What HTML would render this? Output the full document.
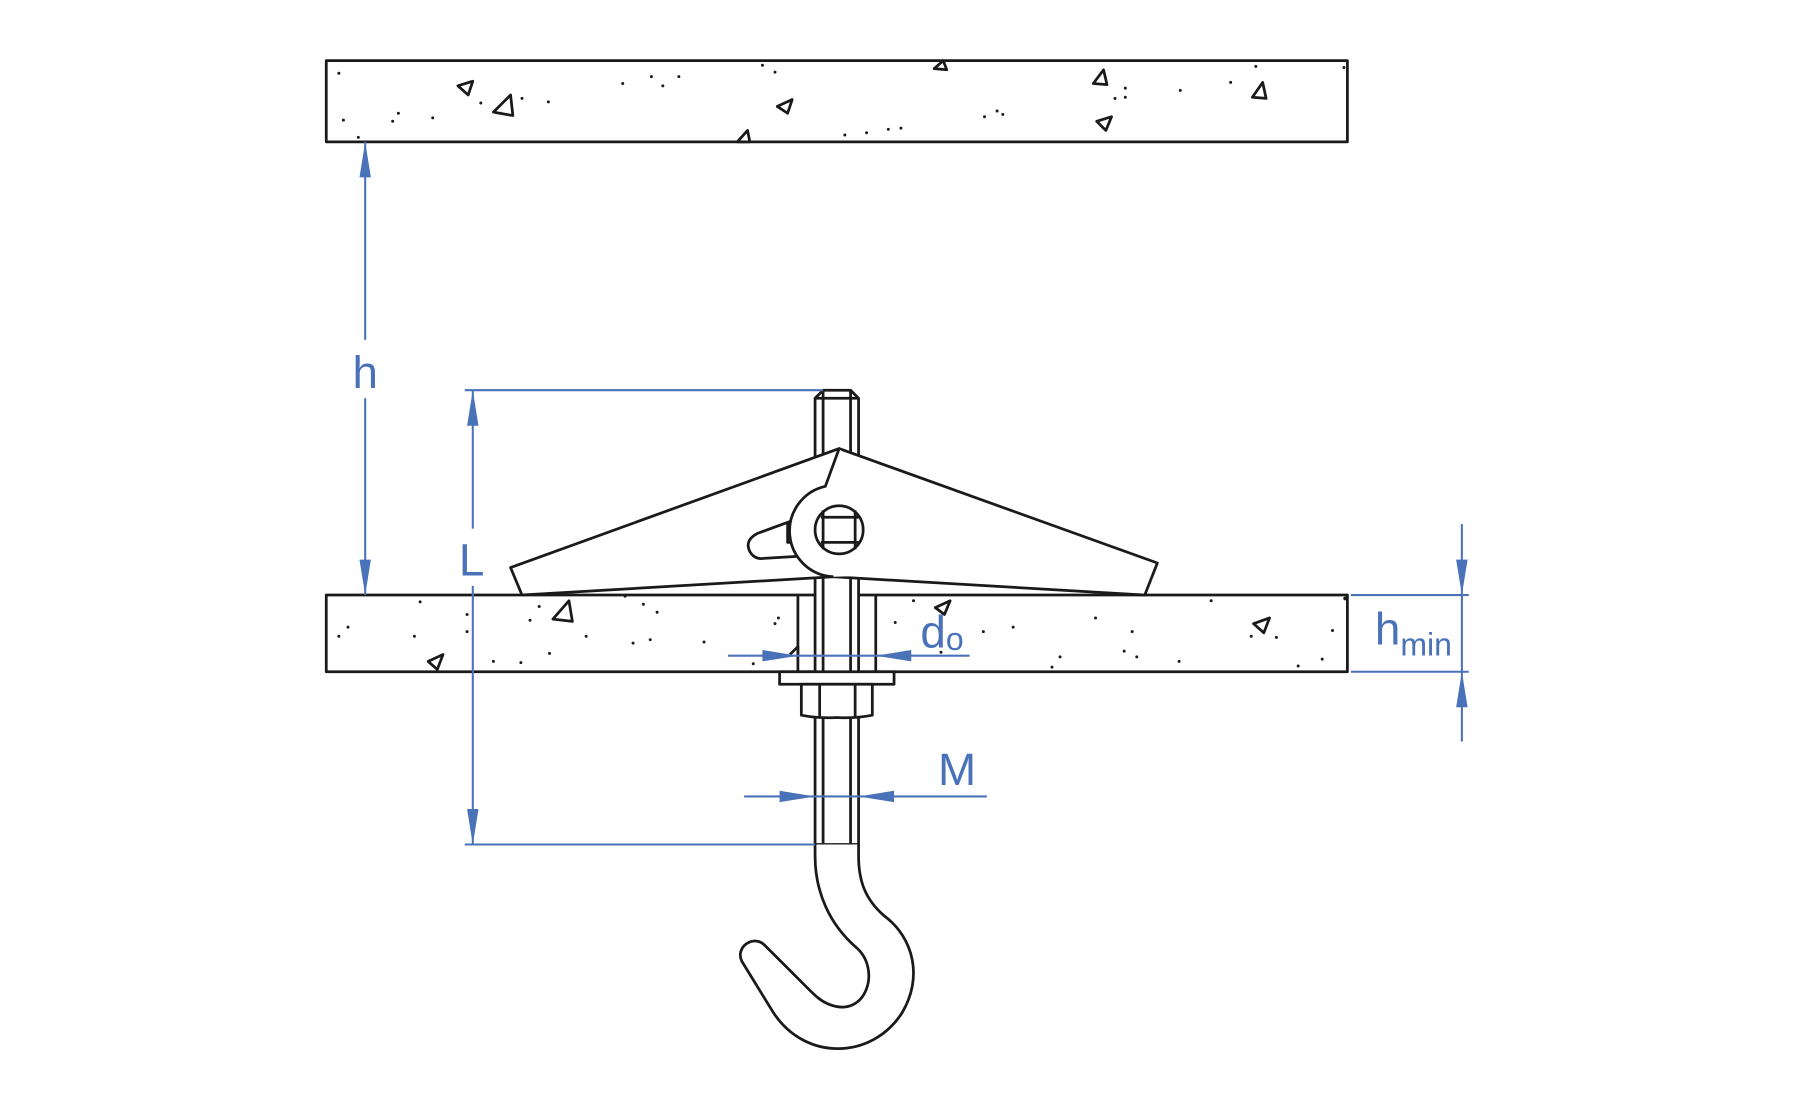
<!DOCTYPE html>
<html><head><meta charset="utf-8"><style>
html,body{margin:0;padding:0;background:#fff;}
svg{display:block;}
text{font-family:"Liberation Sans",sans-serif;fill:#4a72b8;}
</style></head><body>
<svg width="1795" height="1110" viewBox="0 0 1568 970" preserveAspectRatio="none" xmlns="http://www.w3.org/2000/svg">
<g fill="none" stroke="#1a1a1a" stroke-width="2.4" stroke-linejoin="round">
<rect x="285" y="53" width="892" height="71"/>
<rect x="285" y="520" width="892" height="67"/>
<path d="M400,75 L413,71 L409,83 Z"/>
<path d="M431,98 L446,83 L448,101 Z"/>
<path d="M679,93 L692,87 L688,99 Z"/>
<path d="M816,60 L824,53 L827,61 Z"/>
<path d="M955,73 L964,61 L967,74 Z"/>
<path d="M958,106 L971,102 L966,114 Z"/>
<path d="M1094,85 L1103,72 L1106,86 Z"/>
<path d="M644,124 L653,114 L655,124 Z"/>
<path d="M483,541 L497,525 L500,543 Z"/>
<path d="M374,578 L387,572 L382,585 Z"/>
<path d="M817,531 L830,525 L825,537 Z"/>
<path d="M1095,545 L1109,540 L1104,553 Z"/>
<path d="M690,572 L697,565 L697,574"/>
</g>
<g fill="#1a1a1a">
<circle cx="296" cy="64" r="1.3"/><circle cx="300" cy="105" r="1.3"/><circle cx="313" cy="120" r="1.3"/><circle cx="343" cy="106" r="1.3"/><circle cx="348" cy="99" r="1.3"/><circle cx="378" cy="103" r="1.3"/><circle cx="420" cy="90" r="1.3"/><circle cx="456" cy="86" r="1.3"/><circle cx="479" cy="89" r="1.3"/><circle cx="544" cy="73" r="1.3"/><circle cx="569" cy="67" r="1.3"/><circle cx="579" cy="75" r="1.3"/><circle cx="593" cy="67" r="1.3"/><circle cx="666" cy="57" r="1.3"/><circle cx="677" cy="63" r="1.3"/><circle cx="738" cy="118" r="1.3"/><circle cx="757" cy="116" r="1.3"/><circle cx="776" cy="113" r="1.3"/><circle cx="787" cy="112" r="1.3"/><circle cx="860" cy="102" r="1.3"/><circle cx="871" cy="97" r="1.3"/><circle cx="876" cy="100" r="1.3"/><circle cx="974" cy="86" r="1.3"/><circle cx="983" cy="77" r="1.3"/><circle cx="983" cy="85" r="1.3"/><circle cx="1031" cy="79" r="1.3"/><circle cx="1075" cy="72" r="1.3"/><circle cx="1097" cy="58" r="1.3"/><circle cx="1174" cy="59" r="1.3"/>
<circle cx="296" cy="556" r="1.3"/><circle cx="304" cy="548" r="1.3"/><circle cx="367" cy="526" r="1.3"/><circle cx="362" cy="556" r="1.3"/><circle cx="408" cy="537" r="1.3"/><circle cx="408" cy="552" r="1.3"/><circle cx="431" cy="578" r="1.3"/><circle cx="455" cy="579" r="1.3"/><circle cx="463" cy="542" r="1.3"/><circle cx="471" cy="530" r="1.3"/><circle cx="480" cy="571" r="1.3"/><circle cx="512" cy="556" r="1.3"/><circle cx="546" cy="521" r="1.3"/><circle cx="553" cy="562" r="1.3"/><circle cx="562" cy="528" r="1.3"/><circle cx="568" cy="559" r="1.3"/><circle cx="574" cy="535" r="1.3"/><circle cx="615" cy="561" r="1.3"/><circle cx="677" cy="545" r="1.3"/><circle cx="680" cy="540" r="1.3"/><circle cx="658" cy="580" r="1.3"/><circle cx="782" cy="544" r="1.3"/><circle cx="798" cy="525" r="1.3"/><circle cx="822" cy="570" r="1.3"/><circle cx="859" cy="552" r="1.3"/><circle cx="885" cy="548" r="1.3"/><circle cx="919" cy="583" r="1.3"/><circle cx="926" cy="574" r="1.3"/><circle cx="957" cy="540" r="1.3"/><circle cx="982" cy="569" r="1.3"/><circle cx="989" cy="552" r="1.3"/><circle cx="993" cy="574" r="1.3"/><circle cx="1030" cy="578" r="1.3"/><circle cx="1058" cy="525" r="1.3"/><circle cx="1093" cy="556" r="1.3"/><circle cx="1115" cy="557" r="1.3"/><circle cx="1134" cy="582" r="1.3"/><circle cx="1155" cy="576" r="1.3"/><circle cx="1164" cy="551" r="1.3"/><circle cx="1175" cy="523" r="1.6"/>
</g>
<g fill="#fff" stroke="#1a1a1a" stroke-width="2.4" stroke-linejoin="round">
<path d="M719,341 L743,341 L750,348 L750,400 L712,400 L712,348 Z"/>
<path d="M712,348 L750,348 M719,341 L719,400 M743,341 L743,400" fill="none"/>
<rect x="712" y="500" width="38" height="238"/>
<path d="M719,500 L719,738 M743,500 L743,738" fill="none"/>
<path d="M697,520 L697,587 M765,520 L765,587" fill="none"/>
<rect x="681" y="587" width="100" height="11"/>
<path d="M700,598 L762,598 L762,625 Q747,628 731,627 Q715,628 700,625 Z"/>
<path d="M716,598 L716,627 M747,598 L747,627" fill="none"/>
<path d="M733,392 L446,496 L456,520 L728,504 Z"/>
<path d="M733,392 L1011,492 L1000,520 L728,504 Z"/>
<path d="M692,455 L662,466 Q650,472 655,482 Q659,489 667,488 L700,486 Z"/>
<path d="M688,457 L688,474 L697,474" fill="none"/>
<path d="M733,392 L721,425 A40,40 0 0 0 728,504 L760,503 L760,420 Z" stroke="none"/>
<path d="M733,392 L721,425 A40,40 0 0 0 728,504" fill="none"/>
<circle cx="733" cy="463" r="21"/>
<path d="M717,452 L750,452 M717,474 L750,474 M719,446 L719,480 M747,446 L747,480" fill="none"/>
<path d="M712,738 L712,748 C712,780 725,808 748,828 C770,847 757,890 725,878 C717,875 712,870 706,864 L668,826 C658,816 642,828 648,840 L675,884 C703,928 762,926 788,885 C806,855 799,820 772,800 C756,786 750,770 750,748 L750,738"/>
</g>
<g stroke="#4a72b8" stroke-width="1.8" fill="none">
<path d="M319,124 V297 M319,348 V520"/>
<path d="M406,341 H719 M406,738 H712"/>
<path d="M413,341 V462 M413,512 V738"/>
<path d="M636,573 H847"/>
<path d="M650,696 H862"/>
<path d="M1180,520 H1283 M1180,587 H1283 M1277,458 V648"/>
</g>
<g fill="#4a72b8">
<path d="M319,124 L314,155 L324,155 Z"/><path d="M319,520 L314,489 L324,489 Z"/>
<path d="M413,341 L408,372 L418,372 Z"/><path d="M413,738 L408,707 L418,707 Z"/>
<path d="M697,573 L666,568 L666,578 Z"/><path d="M765,573 L796,568 L796,578 Z"/>
<path d="M712,696 L681,691 L681,701 Z"/><path d="M750,696 L781,691 L781,701 Z"/>
<path d="M1277,520 L1272,489 L1282,489 Z"/><path d="M1277,587 L1272,618 L1282,618 Z"/>
</g>
<text x="319" y="339" font-size="40" text-anchor="middle">h</text>
<text x="412" y="503" font-size="40" text-anchor="middle">L</text>
<text x="804" y="566" font-size="40">d<tspan font-size="28" dy="2">o</tspan></text>
<text x="836" y="686" font-size="40" text-anchor="middle">M</text>
<text x="1201" y="563" font-size="40">h<tspan font-size="28" dy="10">min</tspan></text>
</svg>
</body></html>
